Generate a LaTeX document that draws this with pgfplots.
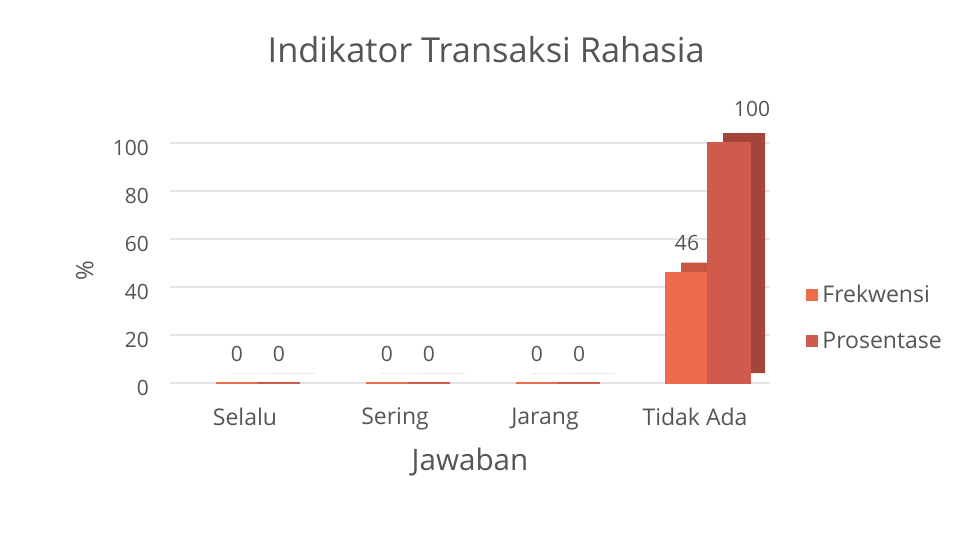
\documentclass[border=0pt]{standalone}
\usepackage{pgfplots}
\pgfplotsset{compat=1.18}
\usepackage{fontspec}
\setmainfont{Open Sans}
\definecolor{frek}{RGB}{238,108,76}
\definecolor{pros}{RGB}{208,90,76}
\definecolor{frekside}{RGB}{200,86,64}
\definecolor{prosside}{RGB}{165,68,58}
\definecolor{txt}{RGB}{85,85,85}
\definecolor{gridc}{RGB}{228,228,228}
\begin{document}
\begin{tikzpicture}
\path[fill=white] (0,0) rectangle (477pt,279.5pt);
\begin{axis}[
  at={(85pt,88pt)}, anchor=south west,
  scale only axis, width=300pt, height=120pt,
  xmin=-0.5, xmax=3.5, ymin=0, ymax=100,
  xtick={0,1,2,3}, xticklabels={Selalu,Sering,Jarang,Tidak Ada},
  ytick={0,20,...,100},
  axis line style={draw=none}, tick style={draw=none},
  ymajorgrids, grid style={gridc, line width=0.6pt},
  ybar, bar width=21pt,
  /pgf/number format/assume math mode=true,
  ticklabel style={font=\fontsize{10.5}{12}\selectfont, text=txt},
  xticklabel style={yshift=-4.5pt, font=\fontsize{11.5}{13}\selectfont},
  yticklabel style={xshift=-7pt, yshift=-2.5pt},
  xlabel={Jawaban}, ylabel={\%},
  xlabel style={at={(axis description cs:0.5,-0.33)}, anchor=center, font=\fontsize{14.8}{17}\selectfont, text=txt},
  ylabel style={at={(axis description cs:-0.142,0.47)}, anchor=center, font=\fontsize{12}{14}\selectfont, text=txt},
  title={Indikator Transaksi Rahasia},
  title style={at={(axis description cs:0.527,1.34)}, anchor=center, font=\fontsize{17.2}{20}\selectfont, text=txt},
  legend style={draw=none, fill=none, at={(1.05,0.27)}, anchor=west,
    font=\fontsize{11.5}{13}\selectfont, text=txt, row sep=9pt,
    /tikz/every even column/.append style={column sep=2pt}},
  legend cell align=left,
  legend image code/.code={\fill[#1,draw=none] (0pt,-3pt) rectangle (6pt,3pt);},
  clip=false,
]
% depth (side/top) of the bars
\addplot[fill=frekside, draw=none, bar shift=-4pt, xshift=7.5pt, yshift=5pt, forget plot]
  coordinates {(0,0) (1,0) (2,0) (3,46)};
\addplot[fill=prosside, draw=none, bar shift=17pt, xshift=7.5pt, yshift=5pt, forget plot]
  coordinates {(0,0) (1,0) (2,0) (3,100)};
% front faces
\addplot[fill=frek, draw=frek, line width=0.8pt, bar shift=-4pt,
  nodes near coords, nodes near coords style={font=\fontsize{10.5}{12}\selectfont, text=txt, yshift=7pt}]
  coordinates {(0,0) (1,0) (2,0) (3,46)};
\addplot[fill=pros, draw=pros, line width=0.8pt, bar shift=17pt,
  visualization depends on={y \as \yval},
  nodes near coords, nodes near coords style={font=\fontsize{10.5}{12}\selectfont, text=txt, yshift=7pt+0.025pt*\yval, xshift=0.115pt*\yval}]
  coordinates {(0,0) (1,0) (2,0) (3,100)};
\legend{Frekwensi, Prosentase}
\end{axis}
\end{tikzpicture}
\end{document}
